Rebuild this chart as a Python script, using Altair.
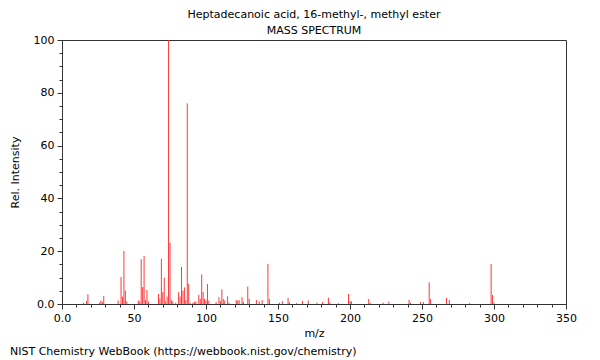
import altair as alt
import pandas as pd

# m/z values and relative intensities
mz = [15, 17, 18, 26, 27, 28, 29, 39, 41, 42, 43, 44, 45, 53, 54, 55, 56, 57, 58, 59, 60,
      67, 68, 69, 70, 71, 72, 73, 74, 75, 76, 77, 79, 81, 82, 83, 84, 85, 86, 87, 88, 89,
      91, 92, 93, 95, 96, 97, 98, 99, 100, 101, 102, 107, 109, 110, 111, 112, 113, 115, 116,
      121, 122, 123, 125, 126, 129, 130, 135, 137, 139, 143, 144, 151, 153, 157, 158, 163,
      167, 171, 177, 181, 185, 186, 192, 199, 200, 201, 213, 214, 223, 227, 241, 242, 249,
      251, 255, 256, 267, 269, 283, 298, 299, 300]
intensity = [0.4, 1.1, 3.7, 0.4, 1.3, 0.8, 3.0, 1.3, 10.2, 2.8, 20.1, 5.0, 1.0, 1.3, 1.0, 17.0, 6.4, 18.2, 1.5, 5.3, 1.0,
             3.8, 2.0, 17.2, 4.5, 10.0, 1.0, 2.8, 100.0, 23.2, 1.5, 1.0, 0.5, 4.5, 2.8, 14.0, 5.0, 6.3, 1.5, 76.0, 7.7, 0.5,
             0.5, 0.8, 1.0, 3.5, 2.0, 11.2, 4.5, 2.0, 1.3, 7.6, 1.3, 0.8, 2.6, 1.1, 5.5, 1.9, 1.3, 2.9, 0.5,
             1.5, 1.2, 1.5, 2.6, 0.8, 6.6, 2.0, 1.5, 1.0, 1.5, 15.2, 1.9, 0.5, 1.1, 2.3, 0.6, 0.4,
             1.2, 1.3, 0.5, 0.8, 2.4, 0.7, 0.3, 3.8, 1.1, 1.0, 1.9, 0.5, 0.5, 0.9, 1.5, 0.5, 0.7,
             0.7, 8.2, 1.9, 2.3, 1.5, 0.3, 15.2, 3.4, 0.5]

title_lines = ["Heptadecanoic acid, 16-methyl-, methyl ester", "MASS SPECTRUM"]
title_offsets = [-25, -9]
footer_text = ["NIST Chemistry WebBook (https://webbook.nist.gov/chemistry)"]
x_tick_values = list(range(0, 351, 10))
y_tick_values = list(range(0, 101, 5))

FONT = "DejaVu Sans"
W, H = 504, 264

df = pd.DataFrame({"mz": mz, "intensity": intensity})

x_axis = alt.Axis(
    values=x_tick_values,
    labelExpr="datum.value % 50 === 0 ? (datum.value === 0 ? '0.0' : format(datum.value, 'd')) : ''",
    tickSize={"condition": {"test": "datum.value % 50 === 0", "value": 5}, "value": 3},
    labelOverlap=False, labelFlush=False, grid=False,
    labelFont=FONT, labelFontSize=11, labelColor="black", labelPadding=3,
    domainColor="#333", tickColor="#333",
    title="m/z", titleFont=FONT, titleFontSize=11, titleFontWeight="normal", titleColor="black",
    titleX=W / 2, titleY=29, titleBaseline="middle", titleAlign="center",
)
y_axis = alt.Axis(
    values=y_tick_values,
    labelExpr="datum.value % 20 === 0 ? (datum.value === 0 ? '0.0' : format(datum.value, 'd')) : ''",
    tickSize={"condition": {"test": "datum.value % 20 === 0", "value": 5}, "value": 3},
    labelOverlap=False, labelFlush=False, grid=False,
    labelFont=FONT, labelFontSize=11, labelColor="black", labelPadding=3,
    domainColor="#333", tickColor="#333",
    title="Rel. Intensity", titleFont=FONT, titleFontSize=11, titleFontWeight="normal", titleColor="black",
    titleX=-47, titleY=H / 2, titleBaseline="middle", titleAlign="center", titleAngle=270,
)

bars = alt.Chart(df).mark_rule(color="#ff3838", strokeWidth=1).encode(
    x=alt.X("mz:Q", scale=alt.Scale(domain=[0, 350], nice=False, zero=False), axis=x_axis),
    y=alt.Y("intensity:Q", scale=alt.Scale(domain=[0, 100], nice=False), axis=y_axis),
    y2=alt.datum(0),
)

titles = alt.Chart(pd.DataFrame({"t": title_lines, "yy": title_offsets})).mark_text(
    font=FONT, fontSize=11, color="black", align="center", baseline="middle"
).encode(text="t:N", x=alt.value(W / 2), y=alt.Y("yy:Q", scale=None))

footer = alt.Chart(pd.DataFrame({"t": footer_text})).mark_text(
    font=FONT, fontSize=11, color="black", align="left", baseline="middle"
).encode(text="t:N", x=alt.value(-52), y=alt.value(312))

chart = alt.layer(bars, titles, footer).properties(
    width=W, height=H,
    padding={"left": 54, "top": 32, "right": 22, "bottom": 56},
    autosize=alt.AutoSizeParams(type="none"),
).configure_view(stroke="#333", strokeWidth=1)

chart.save("out.html", embed_options={"renderer": "svg", "actions": False})
